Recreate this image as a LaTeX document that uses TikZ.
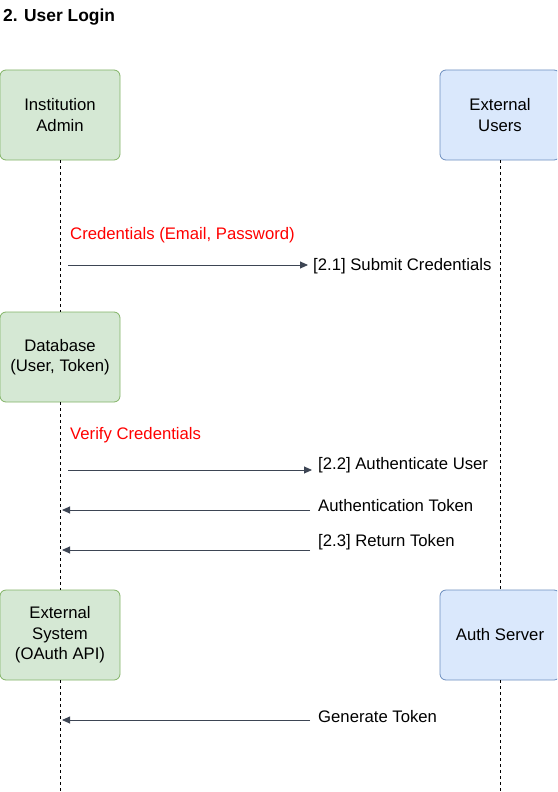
\documentclass[tikz,border=0pt]{standalone}
\usepackage{fontspec}
\setmainfont{Liberation Sans}
\usetikzlibrary{arrows.meta}
\definecolor{gfill}{HTML}{D5E8D4}
\definecolor{gdraw}{HTML}{82B366}
\definecolor{bfill}{HTML}{DAE8FC}
\definecolor{bdraw}{HTML}{6C8EBF}
\definecolor{arr}{HTML}{3D4554}
\tikzset{
  actorg/.style={draw=gdraw, fill=gfill, rounded corners=6pt, minimum width=120pt, minimum height=90pt, align=center, font=\fontsize{16.7}{20.5}\selectfont, line width=0.8pt},
  actorb/.style={draw=bdraw, fill=bfill, rounded corners=6pt, minimum width=120pt, minimum height=90pt, align=center, font=\fontsize{16.7}{20.5}\selectfont, line width=0.8pt},
  lifeline/.style={draw=black, line width=0.8pt, dash pattern=on 3pt off 3pt},
  msg/.style={draw=arr, line width=0.9pt, -{Triangle[length=8pt,width=7pt]}},
  lbl/.style={anchor=west, inner sep=0pt, font=\fontsize{16.7}{20}\selectfont},
  note/.style={anchor=west, inner sep=0pt, font=\fontsize{16.7}{20}\selectfont, text=red}
}
\begin{document}
\begin{tikzpicture}[x=1pt,y=-1pt]
\useasboundingbox (0,0) rectangle (557,792);
\clip (0,0) rectangle (557,792);
\node[anchor=west, inner sep=0pt, font=\bfseries\fontsize{17.4}{20}\selectfont] (title) at (3,17.5) {2. User Login};

\node[actorg] (admin) at (60,115) {Institution\\Admin};
\node[actorb] (users) at (500,115) {External\\Users};
\node[actorg] (db) at (60,357) {Database\\(User, Token)};
\node[actorg] (ext) at (60,635) {External\\System\\(OAuth API)};
\node[actorb] (auth) at (500,635) {Auth Server};

\coordinate (bottomL) at (60,792);
\coordinate (bottomR) at (500,792);
\draw[lifeline] (admin.south) -- (db.north);
\draw[lifeline] (db.south) -- (ext.north);
\draw[lifeline] (ext.south) -- (bottomL);
\draw[lifeline] (users.south) -- (auth.north);
\draw[lifeline] (auth.south) -- (bottomR);

\node[note] (n1) at (70,235.5) {Credentials (Email, Password)};
\node[note] (n2) at (70,435.5) {Verify Credentials};

\node[lbl] (m1) at (313,266.5) {[2.1] Submit Credentials};
\node[lbl] (m2) at (318,465.5) {[2.2] Authenticate User};
\node[lbl] (m3) at (318,505.5) {Authentication Token};
\node[lbl] (m4) at (318,542.5) {[2.3] Return Token};
\node[lbl] (m5) at (318,716.5) {Generate Token};

\coordinate (s1) at (68,265);
\coordinate (e1) at (308,265);
\coordinate (s2) at (68,470);
\coordinate (e2) at (312,470);
\coordinate (s3) at (310,510);
\coordinate (e3) at (62,510);
\coordinate (s4) at (310,550);
\coordinate (e4) at (62,550);
\coordinate (s5) at (310,720);
\coordinate (e5) at (62,720);

\draw[msg] (s1) -- (e1);
\draw[msg] (s2) -- (e2);
\draw[msg] (s3) -- (e3);
\draw[msg] (s4) -- (e4);
\draw[msg] (s5) -- (e5);
\end{tikzpicture}
\end{document}
